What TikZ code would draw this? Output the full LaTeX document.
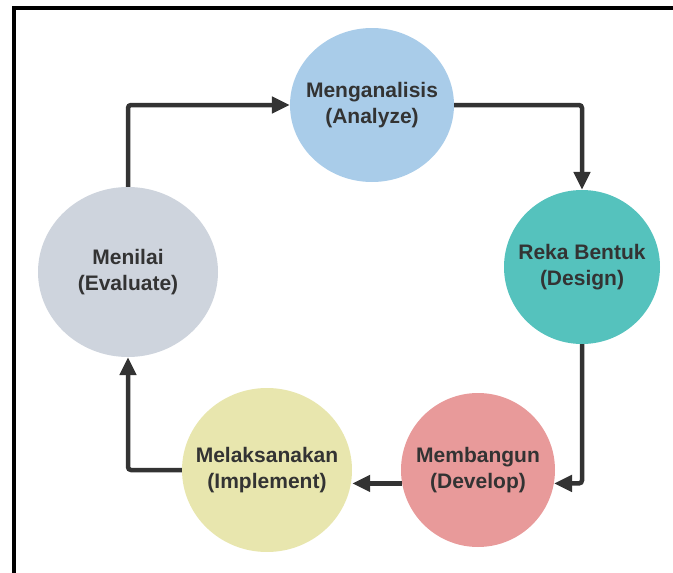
\documentclass[tikz,border=0pt]{standalone}
\usepackage{fontspec}
\setmainfont{Liberation Sans}
\usetikzlibrary{arrows.meta}
\usetikzlibrary{shapes.geometric}

\definecolor{analyzeblue}{HTML}{A9CCE9}
\definecolor{designteal}{HTML}{55C2BD}
\definecolor{developred}{HTML}{E89A9A}
\definecolor{implementyellow}{HTML}{E8E6AE}
\definecolor{evaluategray}{HTML}{CED4DD}
\definecolor{inkgray}{HTML}{333333}

\begin{document}
\begin{tikzpicture}[x=1pt,y=-1pt,
    phase/.style={ellipse, inner xsep=-30pt, inner ysep=-20pt, align=center, text=inkgray,
      font=\bfseries\fontsize{21}{26}\selectfont},
    flow/.style={draw=inkgray, line width=4.5pt, rounded corners=3pt,
      -{Triangle[length=18pt,width=16pt]}}]
    \useasboundingbox (0,0) rectangle (673,573);
    % frame
    \draw[line width=3.5pt] (14,573) -- (14,8) -- (673,8);
    % the five phases
    \node[phase, fill=analyzeblue, minimum width=164pt, minimum height=154pt] (analyze) at (372,105) {Menganalisis\\(Analyze)};
    \node[phase, fill=designteal, minimum width=156pt, minimum height=154pt] (design) at (582,267) {Reka Bentuk\\(Design)};
    \node[phase, fill=developred, minimum width=154pt, minimum height=154pt] (develop) at (478,470) {Membangun\\(Develop)};
    \node[phase, fill=implementyellow, minimum width=170pt, minimum height=164pt] (implement) at (267,470) {Melaksanakan\\(Implement)};
    \node[phase, fill=evaluategray, minimum width=180pt, minimum height=170pt] (evaluate) at (128,272) {Menilai\\(Evaluate)};
    % cycle
    \draw[flow] (evaluate.north) |- (analyze.west);
    \draw[flow] (analyze.east) -| (design.north);
    \draw[flow] (design.south) |- (develop.-10);
    \draw[flow] (develop.190) -- (develop.190 -| implement.east);
    \draw[flow] (implement.west) -| (evaluate.south);
\end{tikzpicture}
\end{document}
